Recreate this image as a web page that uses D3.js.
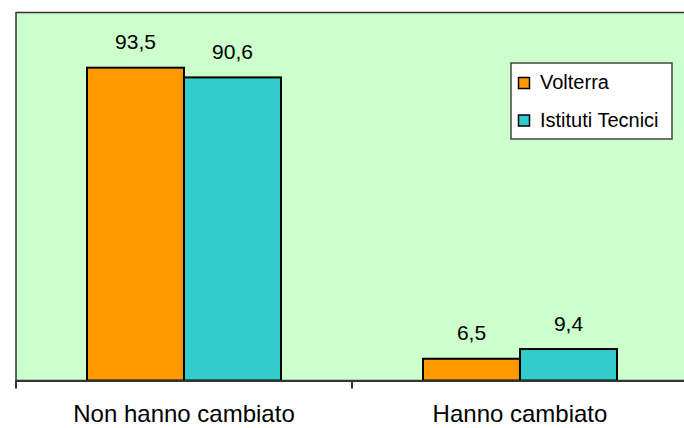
<!DOCTYPE html>
<html><head><meta charset="utf-8">
<script src="https://cdn.jsdelivr.net/npm/d3@7/dist/d3.min.js"></script>
<style>html,body{margin:0;padding:0;background:#fff;}svg{display:block;}</style>
</head><body>
<script>
const categories = ["Non hanno cambiato", "Hanno cambiato"];
const seriesNames = ["Volterra", "Istituti Tecnici"];
const volterra = [93.5, 6.5];
const istitutiTecnici = [90.6, 9.4];
const valueLabels = [["93,5", "6,5"], ["90,6", "9,4"]];
const colors = ["#FF9900", "#33CCCC"];

(function () {
const W = 684, H = 428;
const svg = d3.select("body").append("svg").attr("width", W).attr("height", H);

const pLeft = 16, pTop = 12.5, pRight = 688, pBottom = 380.5;
const x0 = d3.scaleBand().domain(categories).range([pLeft, pRight]).padding(0);
const x1 = d3.scaleBand().domain(seriesNames).range([0, x0.bandwidth()]).paddingInner(0).paddingOuter(0.732);
const y = d3.scaleLinear().domain([0, 110]).range([pBottom, pTop]);

svg.append("rect").attr("x", pLeft).attr("y", pTop).attr("width", pRight - pLeft).attr("height", pBottom - pTop)
  .attr("fill", "#CCFFCC").attr("stroke", "#333").attr("stroke-width", 1.5);

const data = [volterra, istitutiTecnici];
const g = svg.append("g");
seriesNames.forEach((s, si) => {
  categories.forEach((c, ci) => {
    const v = data[si][ci];
    const bx = x0(c) + x1(s);
    g.append("rect").attr("x", bx).attr("y", y(v)).attr("width", x1.bandwidth()).attr("height", y(0) - y(v))
      .attr("fill", colors[si]).attr("stroke", "#000").attr("stroke-width", 2);
    g.append("text").attr("x", bx + x1.bandwidth() / 2).attr("y", y(v) - 18.5)
      .attr("text-anchor", "middle").attr("font-family", "Liberation Sans, Arial, sans-serif")
      .attr("font-size", 21).attr("fill", "#000").text(valueLabels[si][ci]);
  });
});

const axis = d3.axisBottom(x0).tickSize(0).tickFormat("");
const ag = svg.append("g").attr("transform", `translate(0,${pBottom})`).call(axis);
ag.select(".domain").attr("stroke", "#333").attr("stroke-width", 2);
const bounds = [pLeft, x0(categories[1]), pRight];
ag.selectAll("line.bt").data(bounds).enter().append("line").attr("class", "bt")
  .attr("x1", d => d).attr("x2", d => d).attr("y1", 0).attr("y2", 8)
  .attr("stroke", "#333").attr("stroke-width", 2);
ag.selectAll("text.cat").data(categories).enter().append("text").attr("class", "cat")
  .attr("x", d => x0(d) + x0.bandwidth() / 2).attr("y", 41.5)
  .attr("text-anchor", "middle").attr("font-family", "Liberation Sans, Arial, sans-serif")
  .attr("font-size", 24).attr("fill", "#000").text(d => d);

const lg = svg.append("g");
lg.append("rect").attr("x", 511).attr("y", 63).attr("width", 161).attr("height", 76)
  .attr("fill", "#fff").attr("stroke", "#444").attr("stroke-width", 1.5);
seriesNames.forEach((s, i) => {
  lg.append("rect").attr("x", 518.5).attr("y", 77.5 + i * 37.5).attr("width", 11).attr("height", 11)
    .attr("fill", colors[i]).attr("stroke", "#000").attr("stroke-width", 1.5);
  lg.append("text").attr("x", 540).attr("y", 89 + i * 38).attr("font-family", "Liberation Sans, Arial, sans-serif")
    .attr("font-size", 20).attr("fill", "#000").text(s);
});
})();
</script>
</body></html>
